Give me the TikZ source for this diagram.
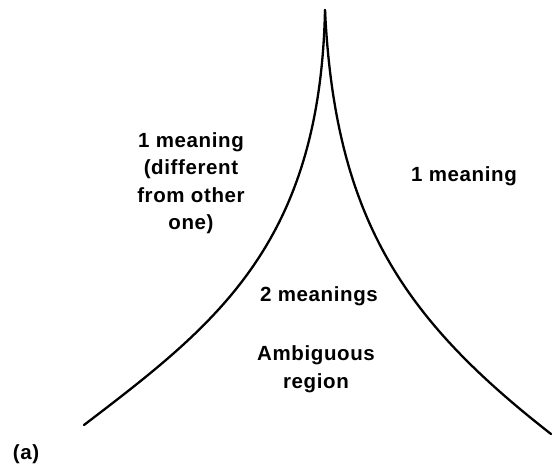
\documentclass[tikz,border=0pt]{standalone}
\usepackage{fontspec}
\newfontfamily\regionfont{Liberation Sans}[LetterSpace=3]
\usepackage{tikz}
\usetikzlibrary{positioning}

\begin{document}
\begin{tikzpicture}[
  x=1pt, y=-1pt,
  every node/.style={align=center, font=\regionfont\bfseries\fontsize{20.5}{27.5}\selectfont},
  cusp/.style={line width=2.3pt, line cap=round, line join=round},
  region/.style={inner sep=0pt}
]
\useasboundingbox (0,0) rectangle (558,476);

% --- CUSP ---
\coordinate (tip) at (325,10);
\coordinate (lend) at (84,425);
\coordinate (rend) at (551,434);

\draw[cusp] (lend) .. controls (215,325) and (320,245) .. (tip);
\draw[cusp] (tip) .. controls (335,220) and (405,320) .. (rend);

% --- REGIONS ---
\node[region] (leftone) at (191,183) {1 meaning\\(different\\from other\\one)};
\node[region] (rightone) at (464,176) {1 meaning};
\node[region] (twomeanings) at (319,296) {2 meanings};
\node[region] (ambig) at (316,369) {Ambiguous\\region};

% --- PANEL LABEL ---
\node[region] (panel) at (26,454) {(a)};

\end{tikzpicture}
\end{document}
